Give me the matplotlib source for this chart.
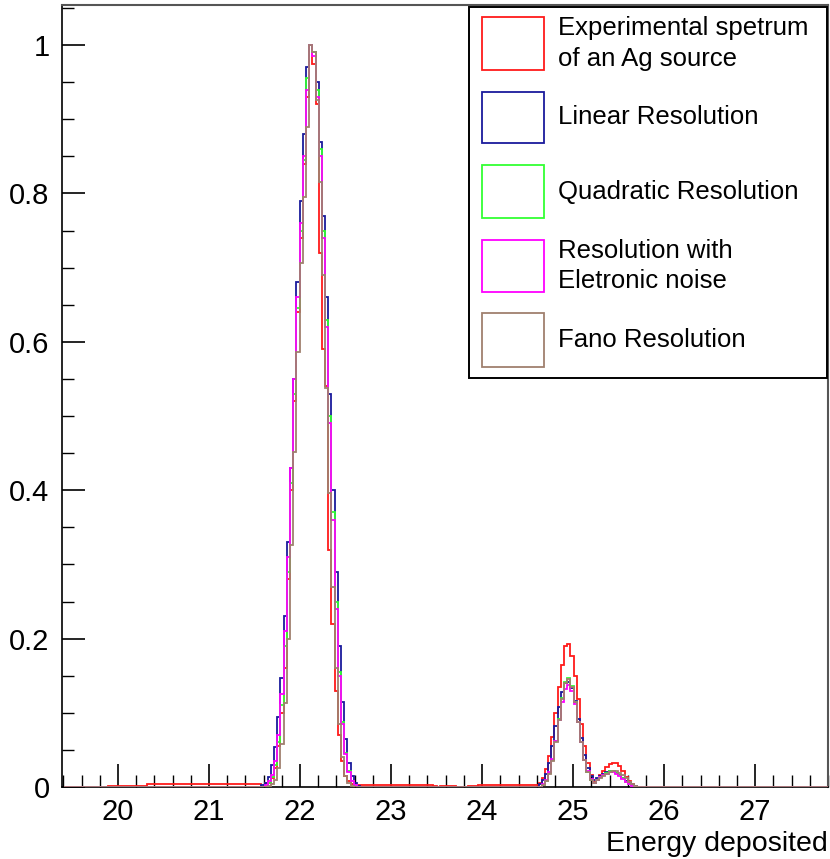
import numpy as np
import matplotlib
matplotlib.use("Agg")
import matplotlib.pyplot as plt
from matplotlib.patches import Rectangle
from matplotlib.ticker import MultipleLocator, FixedLocator, FuncFormatter

plt.rcParams['font.family'] = ['Liberation Sans', 'DejaVu Sans']

# ---------------- data ----------------
bin_width = 0.035
first_edge = 19.405
n_bins = 240
main_peak_energy = 22.10     # left edge of the main-peak bin
second_peak_energy = 24.935  # left edge of the second-peak bin

series_names = ["Experimental spetrum\nof an Ag source", "Linear Resolution",
                "Quadratic Resolution", "Resolution with\nEletronic noise",
                "Fano Resolution"]
series_colors = ["#ff1a1a", "#1a1a9c", "#33ff33", "#ff00ff", "#a0806e"]

# main peak values (first value is at bin offset given by *_main_offset)
red_main_offset = -14
red_main = [0.005, 0.006, 0.012, 0.025, 0.055, 0.10, 0.16, 0.28, 0.40, 0.52, 0.64,
            0.74, 0.84, 0.93, 1.0, 0.975, 0.92, 0.72, 0.59, 0.54, 0.32, 0.22, 0.13,
            0.07, 0.035, 0.015, 0.008, 0.004]
blue_main_offset = -15
blue_main = [0.003, 0.006, 0.013, 0.03, 0.054, 0.094, 0.147, 0.23, 0.33, 0.43, 0.55,
             0.68, 0.79, 0.88, 0.97, 1.0, 0.99, 0.95, 0.87, 0.77, 0.66, 0.53, 0.40,
             0.29, 0.19, 0.115, 0.065, 0.033, 0.015, 0.006, 0.002]
green_main_offset = -14
green_main = [0.002, 0.006, 0.013, 0.03, 0.06, 0.11, 0.19, 0.29, 0.41, 0.53, 0.645,
              0.75, 0.845, 0.955, 1.0, 0.99, 0.94, 0.86, 0.75, 0.63, 0.50, 0.37, 0.25,
              0.155, 0.088, 0.046, 0.021, 0.008, 0.003]
magenta_main_offset = -14
magenta_main = [0.003, 0.008, 0.016, 0.035, 0.07, 0.125, 0.21, 0.31, 0.43, 0.55, 0.66,
                0.76, 0.85, 0.94, 1.0, 0.985, 0.93, 0.85, 0.74, 0.62, 0.49, 0.36, 0.24,
                0.15, 0.085, 0.045, 0.02, 0.008, 0.003]
brown_main_offset = -13
brown_main = [0.002, 0.004, 0.010, 0.025, 0.058, 0.113, 0.200, 0.326, 0.451, 0.586,
              0.706, 0.795, 0.889, 1.000, 0.990, 0.926, 0.815, 0.690, 0.538, 0.396,
              0.270, 0.160, 0.085, 0.040, 0.015, 0.005, 0.002]

# second and third peak values
red_second_offset = -9
red_second = [0.005, 0.012, 0.024, 0.042, 0.068, 0.10, 0.135, 0.165, 0.19, 0.193,
              0.176, 0.15, 0.118, 0.085, 0.055, 0.032, 0.016, 0.007, 0.01,
              0.016, 0.022, 0.027, 0.031, 0.033, 0.033, 0.028, 0.021, 0.014, 0.008,
              0.004, 0.002]
blue_second_offset = -9
blue_second = [0.004, 0.009, 0.018, 0.033, 0.055, 0.082, 0.108, 0.128, 0.14, 0.142,
               0.134, 0.116, 0.092, 0.066, 0.043, 0.026, 0.015, 0.01, 0.012,
               0.015, 0.018, 0.02, 0.021, 0.021, 0.019, 0.016, 0.012, 0.008, 0.005,
               0.003, 0.002]
green_second_offset = -8
green_second = [0.003, 0.008, 0.019, 0.037, 0.062, 0.092, 0.12, 0.141, 0.147, 0.136,
                0.115, 0.088, 0.06, 0.037, 0.02, 0.01, 0.006, 0.01, 0.013,
                0.016, 0.019, 0.021, 0.021, 0.019, 0.016, 0.012, 0.007, 0.004, 0.002]
magenta_second_offset = -8
magenta_second = [0.004, 0.009, 0.02, 0.038, 0.062, 0.09, 0.115, 0.132, 0.137, 0.13,
                  0.112, 0.087, 0.06, 0.037, 0.021, 0.011, 0.006, 0.01, 0.013,
                  0.016, 0.018, 0.02, 0.02, 0.018, 0.015, 0.011, 0.007, 0.004, 0.002]
brown_second_offset = -8
brown_second = [0.003, 0.008, 0.018, 0.035, 0.06, 0.09, 0.118, 0.14, 0.145, 0.135,
                0.115, 0.088, 0.06, 0.037, 0.02, 0.01, 0.006, 0.009, 0.012,
                0.015, 0.018, 0.02, 0.021, 0.021, 0.019, 0.016, 0.012, 0.007, 0.004,
                0.002]

# low-level background of the experimental spectrum: (from, to, level)
red_background = [(19.89, 20.32, 0.0015), (20.32, 21.58, 0.004),
                  (22.60, 23.46, 0.003), (23.465, 23.50, 0.002),
                  (23.535, 23.71, 0.002), (23.85, 23.955, 0.002),
                  (23.955, 24.62, 0.003)]

x_ticks = [20, 21, 22, 23, 24, 25, 26, 27]
y_ticks = [0, 0.2, 0.4, 0.6, 0.8, 1.0]
x_label = "Energy deposited"

# ---------------- build histograms ----------------
edges = first_edge + bin_width * np.arange(n_bins + 1)
p_idx = int(round((main_peak_energy - first_edge) / bin_width))
q_idx = int(round((second_peak_energy - first_edge) / bin_width))


def build(main, main_off, second, second_off, background=()):
    h = np.zeros(n_bins)
    for lo, hi, lev in background:
        i0 = int(round((lo - first_edge) / bin_width))
        i1 = int(round((hi - first_edge) / bin_width))
        h[i0:i1] = lev
    h[p_idx + main_off: p_idx + main_off + len(main)] = main
    h[q_idx + second_off: q_idx + second_off + len(second)] = second
    return h


hists = [
    build(red_main, red_main_offset, red_second, red_second_offset, red_background),
    build(blue_main, blue_main_offset, blue_second, blue_second_offset),
    build(green_main, green_main_offset, green_second, green_second_offset),
    build(magenta_main, magenta_main_offset, magenta_second, magenta_second_offset),
    build(brown_main, brown_main_offset, brown_second, brown_second_offset),
]

# ---------------- figure ----------------
W, H = 830, 859
fig = plt.figure(figsize=(W / 100, H / 100), dpi=100)
ax_l, ax_r, ax_t, ax_b = 62, 828, 5, 787
ax = fig.add_axes([ax_l / W, 1 - ax_b / H, (ax_r - ax_l) / W, (ax_b - ax_t) / H])

for h, c in zip(hists, series_colors):
    ax.stairs(h, edges, color=c, lw=1.3, zorder=3)

ax.set_xlim(19.385, 27.8)
ax.set_ylim(0, 1.054)

ax.xaxis.set_major_locator(FixedLocator(x_ticks))
ax.xaxis.set_minor_locator(MultipleLocator(0.2))
ax.yaxis.set_major_locator(FixedLocator(y_ticks))
ax.yaxis.set_minor_locator(MultipleLocator(0.05))
ax.yaxis.set_major_formatter(FuncFormatter(lambda v, _: "%g" % v))
ax.tick_params(axis='both', which='major', direction='in', length=16.5, width=1.2,
               labelsize=21, color='black')
ax.tick_params(axis='x', which='major', pad=8)
ax.tick_params(axis='both', which='minor', direction='in', length=8.5, width=1.0)
ax.tick_params(axis='y', which='major', pad=9)
ax.tick_params(top=False, right=False, which='both')

for s in ['left', 'bottom']:
    ax.spines[s].set_linewidth(1.2)
    ax.spines[s].set_color('black')
for s in ['top', 'right']:
    ax.spines[s].set_linewidth(1.5)
    ax.spines[s].set_color('#555555')

fig.text(ax_r / W, 1 - 844 / H, x_label, ha='right', va='center', fontsize=20.5)

# ---------------- legend (ROOT-style box) ----------------
lx0, lx1, ly0, ly1 = 469, 827, 7, 378
legend_box = Rectangle((lx0 / W, 1 - ly1 / H), (lx1 - lx0) / W, (ly1 - ly0) / H,
                       transform=fig.transFigure, fill=True, facecolor='white',
                       edgecolor='black', lw=1.4, zorder=10)
fig.add_artist(legend_box)
row_tops = [17, 92, 165, 240, 313]
row_bots = [70, 143, 218, 292, 367]
for name, c, t, b in zip(series_names, series_colors, row_tops, row_bots):
    r = Rectangle((482 / W, 1 - b / H), (544 - 482) / W, (b - t) / H,
                  transform=fig.transFigure, fill=False, edgecolor=c, lw=1.3,
                  zorder=11)
    fig.add_artist(r)
    fig.text(558 / W, 1 - (t + b) / 2 / H, name, ha='left', va='center',
             fontsize=18.5, linespacing=1.35, zorder=12)

fig.savefig("out.png", dpi=100)
